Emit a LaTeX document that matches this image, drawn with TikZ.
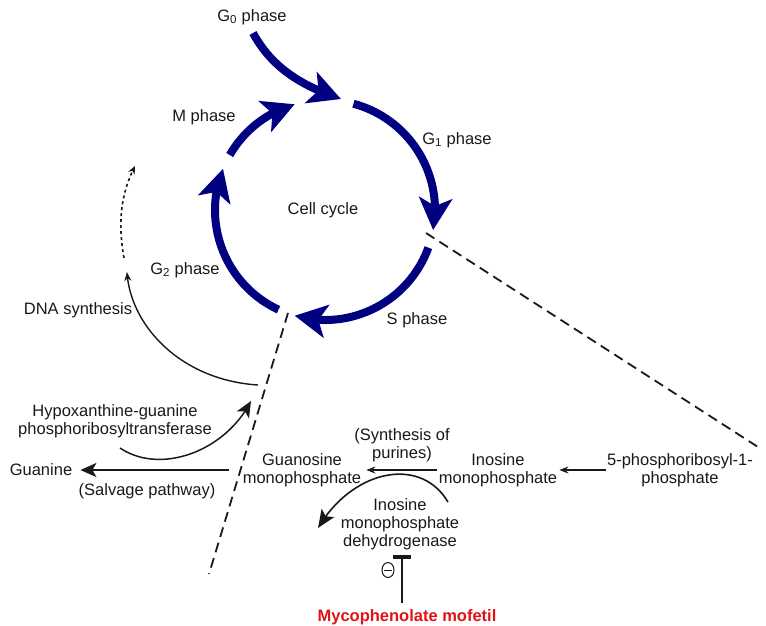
\documentclass[tikz,border=0pt]{standalone}
\usepackage{fontspec}
\setmainfont{Liberation Sans}
\usetikzlibrary{arrows.meta,bending,shapes.geometric}
\definecolor{navy}{RGB}{0,0,128}
\definecolor{drugred}{RGB}{222,20,20}
\definecolor{ink}{RGB}{25,25,25}
\begin{document}
\begin{tikzpicture}[x=1pt,y=-1pt,
  lbl/.style={inner sep=0pt, text=ink, font=\fontsize{16.5}{18}\selectfont, align=center},
  cyc/.style={draw=navy, line width=8pt, -{Stealth[length=32pt,width=33pt,inset=8pt]}},
  thin/.style={draw=ink, line width=1.6pt},
  dashline/.style={draw=ink, line width=1.8pt, dash pattern=on 10pt off 6pt},
  smalltip/.style={-{Stealth[length=9pt,width=7pt]}},
  bigtip/.style={-{Stealth[length=16pt,width=14pt,inset=4pt]}}
]
\useasboundingbox (0,0) rectangle (766,625);
\coordinate (C) at (325,210);

% cell cycle arcs
\draw[cyc] ([shift={(-75:110)}]C) arc[start angle=-75, end angle=10.5, radius=110];
\draw[cyc] ([shift={(20:110)}]C) arc[start angle=20, end angle=106, radius=110];
\draw[cyc] ([shift={(115:110)}]C) arc[start angle=115, end angle=202, radius=110];
\draw[cyc] ([shift={(210:110)}]C) arc[start angle=210, end angle=254, radius=110];

% G0 entry
\coordinate (g0s) at (253,33);
\coordinate (g0e) at (341,99);
\draw[cyc] (g0s) .. controls (272,68) and (302,86) .. (g0e);

% labels of the cycle
\node[lbl] (g0) at (252,17) {G\textsubscript{0} phase};
\node[lbl] (mph) at (204,117) {M phase};
\node[lbl] (g1) at (457,140) {G\textsubscript{1} phase};
\node[lbl] (cc) at (323,210) {Cell cycle};
\node[lbl] (g2) at (185,270) {G\textsubscript{2} phase};
\node[lbl] (sph) at (417,320) {S phase};
\node[lbl] (dna) at (78,310) {DNA synthesis};

% dashed zoom lines
\coordinate (d1a) at (288,313);
\coordinate (d1b) at (209,574);
\coordinate (d2a) at (426,233);
\coordinate (d2b) at (758,447);
\draw[dashline] (d1a) -- (d1b);
\draw[dashline] (d2a) -- (d2b);

% DNA synthesis arrows
\coordinate (dnas) at (258,385);
\coordinate (dnae) at (127,272);
\draw[thin, line width=1.4pt, smalltip] (dnas) .. controls (180,380) and (130,325) .. (dnae);
\coordinate (dots) at (124,258);
\coordinate (dote) at (135,166);
\draw[thin, line width=1.6pt, dash pattern=on 3pt off 3pt, -{Stealth[length=8pt,width=7pt]}] (dots) .. controls (118,225) and (120,195) .. (dote);

% lower pathway
\node[lbl] (hgprt) at (115,421) {Hypoxanthine-guanine\\phosphoribosyltransferase};
\node[lbl] (guanine) at (41,470) {Guanine};
\node[lbl] (salvage) at (147,491) {(Salvage pathway)};
\node[lbl] (gmp) at (302,470) {Guanosine\\monophosphate};
\node[lbl] (synth) at (402,445) {(Synthesis of\\purines)};
\node[lbl] (imp) at (498,470) {Inosine\\monophosphate};
\node[lbl] (prpp) at (680,470) {5-phosphoribosyl-1-\\phosphate};
\node[lbl] (impdh) at (400,524) {Inosine\\monophosphate\\dehydrogenase};
\node[lbl, text=drugred, font=\bfseries\fontsize{16.5}{18}\selectfont] (myco) at (407,617) {Mycophenolate mofetil};

\coordinate (hgs) at (120,448);
\coordinate (hge) at (251,401);
\draw[thin, line width=1.5pt, bigtip] (hgs) .. controls (160,475) and (225,452) .. (hge);

\draw[thin, line width=2pt, bigtip] ([xshift=-14pt]gmp.west) -- ([xshift=8pt]guanine.east);
\draw[thin, smalltip] ([xshift=-2pt]imp.west) -- ([xshift=5pt]gmp.east);
\draw[thin, smalltip] ([xshift=-1pt]prpp.west) -- ([xshift=2pt]imp.east);

\coordinate (ims) at (448,502);
\coordinate (ime) at (318,528);
\draw[thin, line width=1.6pt, -{Stealth[length=18pt,width=15pt,inset=4pt]}] (ims) .. controls (420,455) and (352,470) .. (ime);

% inhibition
\coordinate (bar) at (402,557);
\draw[thin, line width=1.8pt] (bar |- myco.north) ++(0,-6) -- (bar);
\draw[ink, line width=3.5pt] ([xshift=-9pt]bar) -- ([xshift=9pt]bar);
\node[ellipse, draw=ink, line width=1pt, minimum width=12pt, minimum height=15pt, inner sep=0pt] (minus) at (388,570) {};
\draw[ink, line width=1pt] ([xshift=-4pt]minus.center) -- ([xshift=4pt]minus.center);
\end{tikzpicture}
\end{document}
